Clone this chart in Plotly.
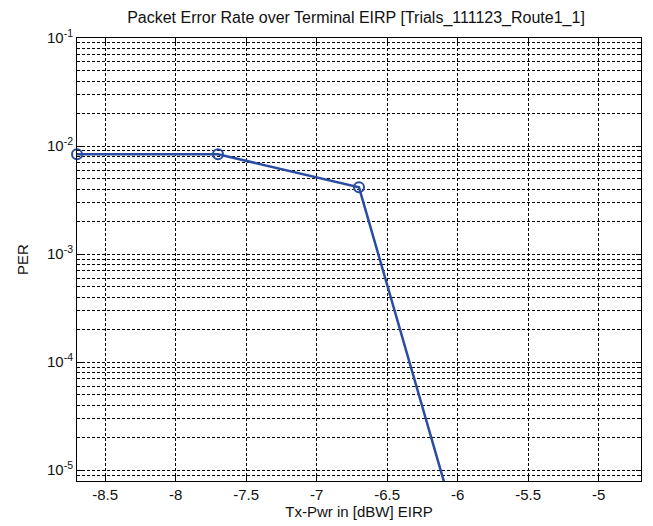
import plotly.graph_objects as go

tx_pwr = [-8.7, -7.7, -6.7, -5.7]
per = [8.4e-3, 8.4e-3, 4.15e-3, 1.25e-7]

decades = [1e-5, 1e-4, 1e-3, 1e-2, 1e-1]
decade_labels = ["10<sup>-5</sup>", "10<sup>-4</sup>", "10<sup>-3</sup>", "10<sup>-2</sup>", "10<sup>-1</sup>"]
x_ticks = [-8.5, -8, -7.5, -7, -6.5, -6, -5.5, -5]
x_labels = ["-8.5", "-8", "-7.5", "-7", "-6.5", "-6", "-5.5", "-5"]

minor_vals = [m * d for d in [1e-6, 1e-5, 1e-4, 1e-3, 1e-2] for m in range(2, 10)]

blue = "#2a4ca2"
fig = go.Figure()
# line (clipped to the axes)
fig.add_trace(go.Scatter(
    x=tx_pwr, y=per, mode="lines",
    line=dict(color=blue, width=2.5),
    cliponaxis=True,
))
# markers (not clipped, like MATLAB)
fig.add_trace(go.Scatter(
    x=tx_pwr, y=per, mode="markers",
    marker=dict(symbol="circle-open", size=10, color=blue, line=dict(width=2, color=blue)),
    cliponaxis=False,
))

# page body has an 8px margin; figure is sized to fill the rest of the window
W, H = 645, 518
font = dict(family="Liberation Sans, Arial, sans-serif", size=15, color="#111")
grid = dict(showgrid=True, gridcolor="black", gridwidth=1, griddash="3px,2px")
fig.update_layout(
    width=W, height=H,
    margin=dict(l=69, r=12, t=30, b=45),
    paper_bgcolor="white", plot_bgcolor="white",
    showlegend=False,
    font=font,
    title=dict(text="Packet Error Rate over Terminal EIRP [Trials_111123_Route1_1]",
               x=348 / W, xref="container", xanchor="center", y=1 - 9 / H, yref="container",
               yanchor="middle", font=dict(size=16, color="#111")),
    xaxis=dict(range=[-8.7, -4.7], tickvals=x_ticks, ticktext=x_labels,
               showline=True, linecolor="black", linewidth=1, mirror="ticks",
               ticks="inside", ticklen=5, tickcolor="black", zeroline=False,
               automargin=False,
               title=dict(text="Tx-Pwr in [dBW] EIRP", standoff=4, font=dict(size=15)),
               tickfont=dict(size=15), **grid),
    yaxis=dict(type="log", range=[-5.1, -1], tickvals=decades, ticktext=decade_labels,
               showline=True, linecolor="black", linewidth=1, mirror="ticks",
               ticks="inside", ticklen=5, tickcolor="black", zeroline=False,
               automargin=False,
               title=dict(text="PER", standoff=14, font=dict(size=15)),
               tickfont=dict(size=15),
               minor=dict(tickvals=minor_vals, ticks="inside", ticklen=3, tickcolor="black",
                          showgrid=True, gridcolor="black", gridwidth=1, griddash="3px,2px"),
               **grid),
)
fig.write_html("out.html")
